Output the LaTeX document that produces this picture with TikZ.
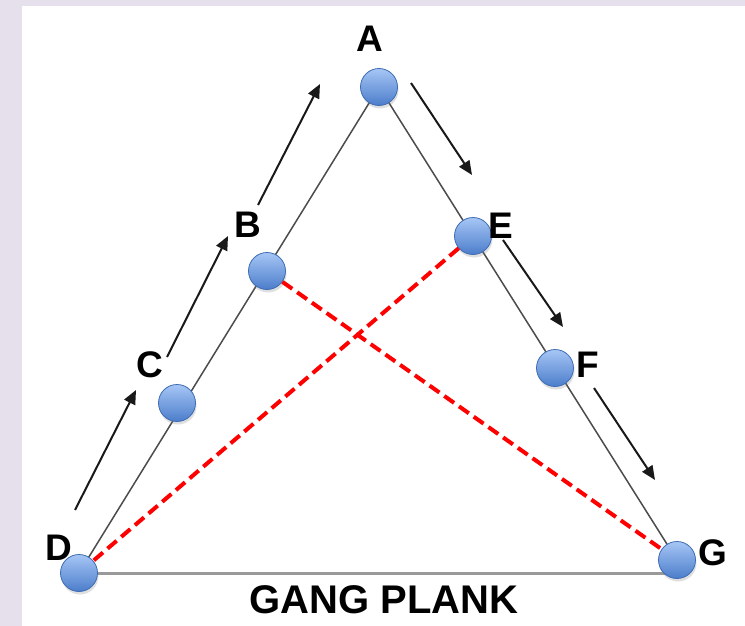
\documentclass[tikz,border=0pt]{standalone}
\usepackage{fontspec}
\setmainfont{Liberation Sans}
\usetikzlibrary{positioning,arrows.meta,shadows,backgrounds}

\definecolor{frame}{HTML}{E5E0EC}
\definecolor{balltop}{HTML}{A6C6F5}
\definecolor{ballbot}{HTML}{4C7DCB}
\definecolor{ballrim}{HTML}{3E6DB3}

\begin{document}
\begin{tikzpicture}[x=1pt,y=-1pt,>={Triangle[length=14pt,width=12pt]},
  stop/.style={circle,minimum size=37pt,inner sep=0pt,draw=ballrim,line width=0.8pt,
    top color=balltop,bottom color=ballbot,
    drop shadow={shadow xshift=1pt,shadow yshift=-3pt,opacity=0.25}},
  lbl/.style={font=\bfseries\fontsize{37}{37}\selectfont,anchor=base,inner sep=0pt},
  flow/.style={->,line width=2pt,black!90},
  side/.style={line width=1.5pt,black!70},
  cross/.style={red,line width=4pt,dash pattern=on 12pt off 6pt},
  plank/.style={line width=3pt,gray!80}]
  \useasboundingbox (0,0) rectangle (745,626);
  % Rahmen
  \begin{pgfonlayer}{background}
    \fill[frame] (0,0) rectangle (745,626);
    \fill[white] (22,6) rectangle (745,626);
  \end{pgfonlayer}
  % Stationen
  \node[stop] (a) at (379,87) {};
  \node[stop] (b) at (267,271) {};
  \node[stop] (c) at (177,403) {};
  \node[stop] (d) at (79,573) {};
  \node[stop] (e) at (473,236) {};
  \node[stop] (f) at (555,368) {};
  \node[stop] (g) at (677,560) {};
  % Beschriftung
  \node[lbl] (labA) at (370,52) {A};
  \node[lbl] (labB) at (248,237) {B};
  \node[lbl] (labC) at (150,377) {C};
  \node[lbl] (labD) at (59,560) {D};
  \node[lbl] (labE) at (501,238) {E};
  \node[lbl] (labF) at (588,377) {F};
  \node[lbl] (labG) at (713,565) {G};
  \node[lbl,font=\bfseries\fontsize{40}{40}\selectfont] (plank) at (384,613) {GANG PLANK};
  % Seiten des Dreiecks
  \begin{pgfonlayer}{background}
    \draw[side] (a.center) -- (d.center);
    \draw[side] (a.center) -- (g.center);
    \draw[plank] (d.center) -- (d.center -| g.center);
  \end{pgfonlayer}
  % Diagonalen
  \draw[cross] (b) -- (g);
  \draw[cross] (e) -- (d);
  % Laufrichtung
  \coordinate (t1) at (75,510);  \coordinate (h1) at (136,390);
  \coordinate (t2) at (167,357); \coordinate (h2) at (228,236);
  \coordinate (t3) at (258,205); \coordinate (h3) at (320,84);
  \coordinate (t4) at (411,83);  \coordinate (h4) at (472,175);
  \coordinate (t5) at (503,240); \coordinate (h5) at (563,327);
  \coordinate (t6) at (594,388); \coordinate (h6) at (655,480);
  \foreach \i in {1,...,6}
    \draw[flow] (t\i) -- (h\i);
\end{tikzpicture}
\end{document}
